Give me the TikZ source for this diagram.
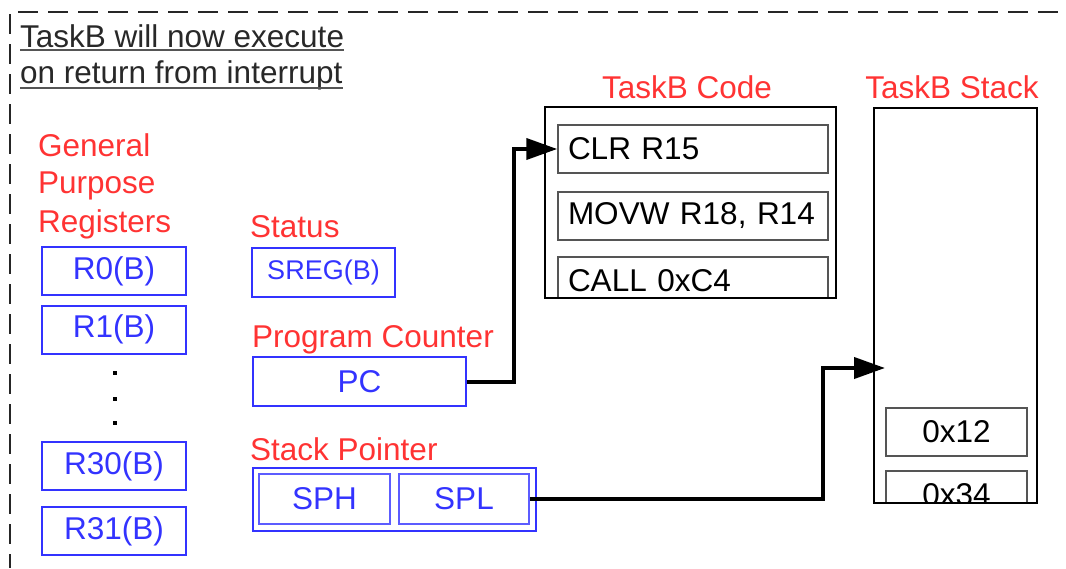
\documentclass[tikz,border=0pt]{standalone}
\usepackage{fontspec}
\setmainfont{Liberation Sans}
\usetikzlibrary{arrows.meta}
\definecolor{regblue}{RGB}{51,51,255}
\definecolor{lblred}{RGB}{255,51,51}
\definecolor{codegray}{RGB}{85,85,85}
\definecolor{titlegray}{RGB}{40,40,40}
\newcommand{\diagfont}{\fontsize{31.5}{37.5}\selectfont}

\begin{document}
\begin{tikzpicture}[x=1pt,y=-1pt,line join=miter,
  reg/.style={draw=regblue,text=regblue,line width=2pt,inner sep=0pt,minimum width=144pt,minimum height=48pt,font=\diagfont},
  lbl/.style={text=lblred,inner sep=0pt,font=\diagfont},
  title/.style={text=titlegray,inner sep=0pt,font=\diagfont},
  uline/.style={draw=codegray,line width=1.5pt},
  border/.style={line width=2.5pt,draw=black!85,dash pattern=on 20pt off 10pt},
  instr/.style={draw=codegray,line width=1.5pt,minimum width=270pt,minimum height=48pt,inner xsep=10pt,text width=250pt,align=left,font=\diagfont},
  slot/.style={draw=codegray,line width=1.5pt,minimum width=141pt,minimum height=48pt,font=\diagfont},
  arr/.style={line width=4pt,-{Triangle[length=31pt,width=21pt]}}]
  \useasboundingbox (0,0) rectangle (1066,568);
  \draw[border] (10,14) -- (10,568);
  \draw[border] (18,12) -- (1066,12);

  \node[title,anchor=base west] (title1) at (20,47) {TaskB will now execute};
  \node[title,anchor=base west] (title2) at (20,83) {on return from interrupt};
  \draw[uline] ([yshift=-3pt]title1.base west) -- ([yshift=-3pt]title1.base east);
  \draw[uline] ([yshift=-5pt]title2.base west) -- ([yshift=-5pt]title2.base east);

  % register file
  \foreach \word/\ypos [count=\i] in {General/156,Purpose/193,Registers/232}
    \node[lbl,anchor=base west] (gpr\i) at (38,\ypos) {\word};
  \node[reg] (r0) at (114,271) {R0(B)};
  \node[reg] (r1) at (114,329.5) {R1(B)};
  \foreach \ypos in {373,399,423}
    \fill (112.5,\ypos-2) rectangle ++(4,4);
  \node[reg] (r30) at (114,466) {R30(B)};
  \node[reg] (r31) at (114,531) {R31(B)};

  \node[lbl,anchor=base west] (statuslbl) at (250,237) {Status};
  \node[reg,minimum width=143pt,minimum height=49pt,font=\fontsize{27}{32}\selectfont] (sreg) at (323.5,272.5) {SREG(B)};
  \node[lbl,anchor=base west] (pclbl) at (252,347) {Program Counter};
  \node[reg,minimum width=213pt,minimum height=49pt] (pc) at (359.5,381.5) {PC};
  \node[lbl,anchor=base west] (splbl) at (250,460) {Stack Pointer};
  \node[reg,minimum width=283pt,minimum height=63pt] (sp) at (394.5,499.5) {};
  \node[reg,line width=1.5pt,draw=regblue!80,minimum width=131pt,minimum height=50pt] (sph) at (324.5,499) {SPH};
  \node[reg,line width=1.5pt,draw=regblue!80,minimum width=130pt,minimum height=50pt] (spl) at (464,499) {SPL};

  % code memory
  \node[lbl,anchor=base] (codelbl) at (687,98) {TaskB Code};
  \node[instr] (clr) at (693,149) {CLR R15};
  \node[instr] (movw) at (693,216) {MOVW R18, R14};
  \begin{scope}
    \clip (545,107) rectangle (836,298);
    \node[instr] (call) at (693,281) {CALL 0xC4};
  \end{scope}
  \node[draw,line width=2pt,minimum width=291pt,minimum height=191pt,inner sep=0pt] (code) at (690.5,202.5) {};

  % stack memory
  \node[lbl,anchor=base] (stacklbl) at (952,98) {TaskB Stack};
  \node[slot] (byte12) at (956.5,432) {0x12};
  \begin{scope}
    \clip (874,108) rectangle (1037,503);
    \node[slot] (byte34) at (956.5,495) {0x34};
  \end{scope}
  \node[draw,line width=2pt,minimum width=163pt,minimum height=395pt,inner sep=0pt] (stack) at (955.5,305.5) {};
  \coordinate (sptarget) at (885,368);

  \draw[arr] (pc.east) -- ++(47,0) |- (clr.west);
  \draw[arr] (spl.east) -- ++(293,0) |- (sptarget);

\end{tikzpicture}
\end{document}
